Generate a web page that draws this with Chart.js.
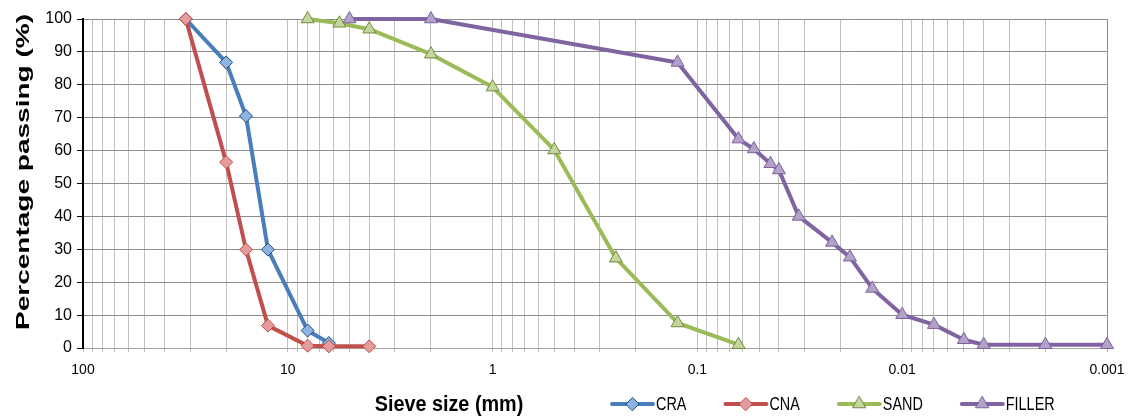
<!DOCTYPE html>
<html lang="en">
<head>
<meta charset="UTF-8">
<title>Grading curves</title>
<style>
  body { margin: 0; background: #fff; }
  #wrap { width: 1129px; height: 418px; }
</style>
</head>
<body>
<div id="wrap"><canvas id="gradingChart" width="1129" height="418"></canvas></div>

<script src="https://cdn.jsdelivr.net/npm/chart.js"></script>
<script>
// sieve size (mm) and percentage passing
var seriesNames = ['CRA', 'CNA', 'SAND', 'FILLER'];

var craSize = [31.5, 20, 16, 12.5, 8, 6.3];
var craPassing = [100, 86.8, 70.5, 29.9, 5.3, 1.5];

var cnaSize = [31.5, 20, 16, 12.5, 8, 6.3, 4];
var cnaPassing = [100, 56.5, 29.9, 6.8, 0.7, 0.5, 0.5];

var sandSize = [8, 5.6, 4, 2, 1, 0.5, 0.25, 0.125, 0.063];
var sandPassing = [100, 98.7, 96.9, 89.3, 79.3, 60.2, 27.3, 7.6, 1.0];

var fillerSize = [5, 2, 0.125, 0.063, 0.053, 0.044, 0.04, 0.032, 0.022, 0.018, 0.014, 0.01, 0.007, 0.005, 0.004, 0.002, 0.001];
var fillerPassing = [100, 100, 86.8, 63.5, 60.5, 56.0, 54.1, 40.0, 32.1, 27.6, 18.1, 10.1, 7.1, 2.5, 1.0, 1.0, 1.0];

// tick labels on the x axis (decades only)
var decadeValues = [100, 10, 1, 0.1, 0.01, 0.001];
var decadeLabels = ['100', '10', '1', '0.1', '0.01', '0.001'];

var xTitle = 'Sieve size (mm)';
var yTitle = 'Percentage passing (%)';

var plainFont = '"Liberation Sans", Arial, sans-serif';

// 1..9 x 10^n gridlines, like a log paper
var gridValues = [];
[0.001, 0.01, 0.1, 1, 10].forEach(function (d) {
    for (var k = 1; k <= 9; k++) {
        gridValues.push(parseFloat((k * d).toPrecision(6)));
    }
});
gridValues.push(100);

function toPoints(sizes, passing) {
    return sizes.map(function (s, i) { return { x: s, y: passing[i] }; });
}

function makeSeries(name, sizes, passing, line, fill, edge, style, radius, order) {
    return {
        label: name,
        data: toPoints(sizes, passing),
        borderColor: line,
        borderWidth: 4,
        borderJoinStyle: 'round',
        borderCapStyle: 'round',
        pointStyle: style,
        pointRadius: radius,
        pointHoverRadius: radius,
        pointBackgroundColor: fill,
        pointBorderColor: edge,
        pointBorderWidth: 1,
        tension: 0,
        clip: false,
        order: order
    };
}

// text squeezed sideways, close to the narrow face of the original
function narrowText(ctx, text, x, y, squeeze) {
    ctx.save();
    ctx.translate(x, y);
    ctx.scale(squeeze, 1);
    ctx.fillText(text, 0, 0);
    ctx.restore();
    return ctx.measureText(text).width * squeeze;
}

// draws both axis titles and the key on the bottom row
var titlesAndKey = {
    id: 'titlesAndKey',
    afterDraw: function (chart) {
        var ctx = chart.ctx;

        // y title, stretched along its length as in the original
        ctx.save();
        ctx.font = 'bold 19px ' + plainFont;
        ctx.fillStyle = '#000';
        ctx.textAlign = 'center';
        ctx.textBaseline = 'middle';
        var w = ctx.measureText(yTitle).width;
        ctx.translate(24, 172);
        ctx.rotate(-Math.PI / 2);
        ctx.scale(316 / w, 1);
        ctx.fillText(yTitle, 0, 0);
        ctx.restore();

        // x title
        ctx.save();
        ctx.font = 'bold 22px ' + plainFont;
        ctx.fillStyle = '#000';
        ctx.textAlign = 'center';
        ctx.textBaseline = 'middle';
        narrowText(ctx, xTitle, 449, 405, 0.9);
        ctx.restore();

        // key
        ctx.save();
        ctx.font = '18px ' + plainFont;
        ctx.textBaseline = 'middle';
        ctx.textAlign = 'left';
        var x = 612, y = 404;
        chart.data.datasets.forEach(function (ds) {
            ctx.strokeStyle = ds.borderColor;
            ctx.lineWidth = ds.borderWidth;
            ctx.lineCap = 'round';
            ctx.beginPath();
            ctx.moveTo(x, y);
            ctx.lineTo(x + 41, y);
            ctx.stroke();

            ctx.fillStyle = ds.pointBackgroundColor;
            ctx.strokeStyle = ds.pointBorderColor;
            ctx.lineWidth = ds.pointBorderWidth;
            Chart.helpers.drawPoint(ctx, {
                pointStyle: ds.pointStyle,
                radius: ds.pointRadius,
                rotation: 0,
                borderWidth: ds.pointBorderWidth
            }, x + 20.5, y);

            ctx.fillStyle = '#000';
            var tw = narrowText(ctx, ds.label, x + 44, y + 1, 0.8);
            x += 44 + tw + 39;
        });
        ctx.restore();
    }
};

var ctx = document.getElementById('gradingChart').getContext('2d');
var gradingChart = new Chart(ctx, {
    type: 'line',
    data: {
        datasets: [
            makeSeries(seriesNames[0], craSize, craPassing, '#4A7EBB', '#8DB3E2', '#1F497D', 'rectRot', 6.5, 3),
            makeSeries(seriesNames[1], cnaSize, cnaPassing, '#C0504D', '#E59C9A', '#BE4B48', 'rectRot', 6.5, 2),
            makeSeries(seriesNames[2], sandSize, sandPassing, '#9BBB59', '#C3D69B', '#71893F', 'triangle', 7.5, 1),
            makeSeries(seriesNames[3], fillerSize, fillerPassing, '#8064A2', '#B3A2C7', '#7D60A0', 'triangle', 7.5, 0)
        ]
    },
    options: {
        responsive: false,
        devicePixelRatio: 1,
        animation: false,
        layout: { padding: { top: 19, right: 22, bottom: 0, left: 0 } },
        plugins: {
            legend: { display: false },
            tooltip: { enabled: false }
        },
        scales: {
            x: {
                type: 'logarithmic',
                reverse: true,
                min: 0.001,
                max: 100,
                afterBuildTicks: function (scale) {
                    scale.ticks = gridValues.map(function (v) { return { value: v }; });
                },
                afterFit: function (scale) { scale.height = 70; },
                ticks: {
                    autoSkip: false,
                    maxRotation: 0,
                    padding: 10,
                    color: '#000',
                    font: { family: plainFont, size: 14 },
                    callback: function (value) {
                        var i = decadeValues.indexOf(value);
                        return i >= 0 ? decadeLabels[i] : '';
                    }
                },
                grid: {
                    color: function (c) {
                        return c.tick && c.tick.value === 0.001 ? '#8c8c8c' : '#c0c0c0';
                    },
                    tickLength: 4,
                    tickColor: '#bfbfbf'
                },
                border: { color: '#a6a6a6', width: 1 }
            },
            y: {
                min: 0,
                max: 100,
                afterFit: function (scale) { scale.width = 83; },
                ticks: {
                    stepSize: 10,
                    padding: 5,
                    color: '#000',
                    font: { family: plainFont, size: 16 }
                },
                grid: {
                    color: '#8c8c8c',
                    tickLength: 6,
                    tickColor: '#000'
                },
                border: { color: '#000', width: 2 }
            }
        }
    },
    plugins: [titlesAndKey]
});
</script>
</body>
</html>
